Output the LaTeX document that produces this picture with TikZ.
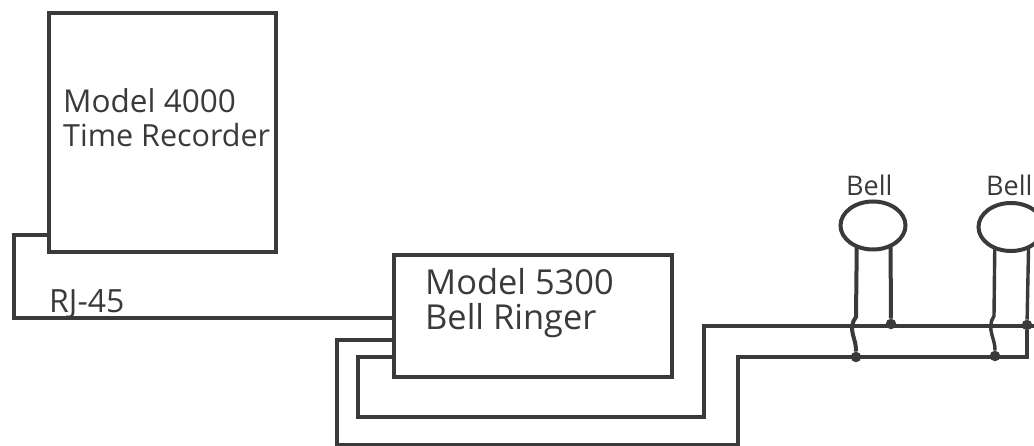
\documentclass[tikz,border=0pt]{standalone}
\usepackage{fontspec}
\setmainfont{Open Sans}
\usetikzlibrary{shapes.geometric}
\definecolor{ink}{HTML}{3A3A3A}
\tikzset{
  unitbox/.style={draw=ink,line width=4pt,rectangle,inner sep=0pt,outer sep=0pt,anchor=north west},
  bellbody/.style={draw=ink,line width=4pt,ellipse,inner sep=0pt,outer sep=0pt,minimum width=65pt,minimum height=48pt},
  wire/.style={draw=ink,line width=4pt,line join=miter},
  thinwire/.style={draw=ink,line width=3.4pt,line join=miter},
  junction/.style={circle,fill=ink,inner sep=0pt,minimum size=10.5pt},
  label/.style={text=ink,inner sep=0pt,anchor=base west}
}
\begin{document}
\begin{tikzpicture}[x=1pt,y=-1pt]
\useasboundingbox (0,0) rectangle (1034,446);
\node[unitbox,minimum width=227pt,minimum height=239pt] (rec) at (49,13) {};
\node[unitbox,minimum width=278pt,minimum height=122pt] (ring) at (394,255) {};
\node[label,font=\fontsize{31.5}{31.5}\selectfont] (t1) at (63,113) {Model 4000};
\node[label,font=\fontsize{30.5}{30.5}\selectfont] (t2) at (63,147) {Time Recorder};
\node[label,font=\fontsize{34.4}{34.4}\selectfont] (t3) at (425,295) {Model 5300};
\node[label,font=\fontsize{34.4}{34.4}\selectfont] (t4) at (425,330) {Bell Ringer};
\node[label,font=\fontsize{32}{32}\selectfont] (t5) at (49,313) {RJ-45};
\node[label,font=\fontsize{27}{27}\selectfont] (t6) at (846,196) {Bell};
\node[label,font=\fontsize{27}{27}\selectfont] (t7) at (986,196) {Bell};
\node[bellbody] (bell1) at (873,225.5) {};
\node[bellbody] (bell2) at (1011,227) {};
\node[junction] (d1) at (891,324) {};
\node[junction] (d2) at (856,357) {};
\node[junction] (d3) at (1027,325) {};
\node[junction] (d4) at (995,356) {};
\coordinate (recp) at (49,235);
\coordinate (ringa) at (394,318);
\coordinate (ringb) at (394,340);
\coordinate (ringc) at (394,357);
\coordinate (edge) at (1034,326);
\path[wire] (recp) -- (14,235) -- (14,318) -- (ringa);
\path[thinwire] (ringb) -- (337,340) -- (337,445) -- (738,445) -- (738,357) -- (1027,357) -- (d3);
\path[wire] (ringc) -- (358,357) -- (358,417) -- (704,417) -- (704,326) -- (edge);
\path[wire] (bell1.232) -- (856,317) .. controls (852,322) and (851,328) .. (853,335) .. controls (855,342) and (856,345) .. (d2);
\path[wire] (bell1.-49) -- (d1);
\path[thinwire] (bell2.232) -- (994,316) .. controls (990,322) and (990,328) .. (992,335) .. controls (994,342) and (995,345) .. (d4);
\path[thinwire] (bell2.-49) -- (d3);
\end{tikzpicture}
\end{document}
